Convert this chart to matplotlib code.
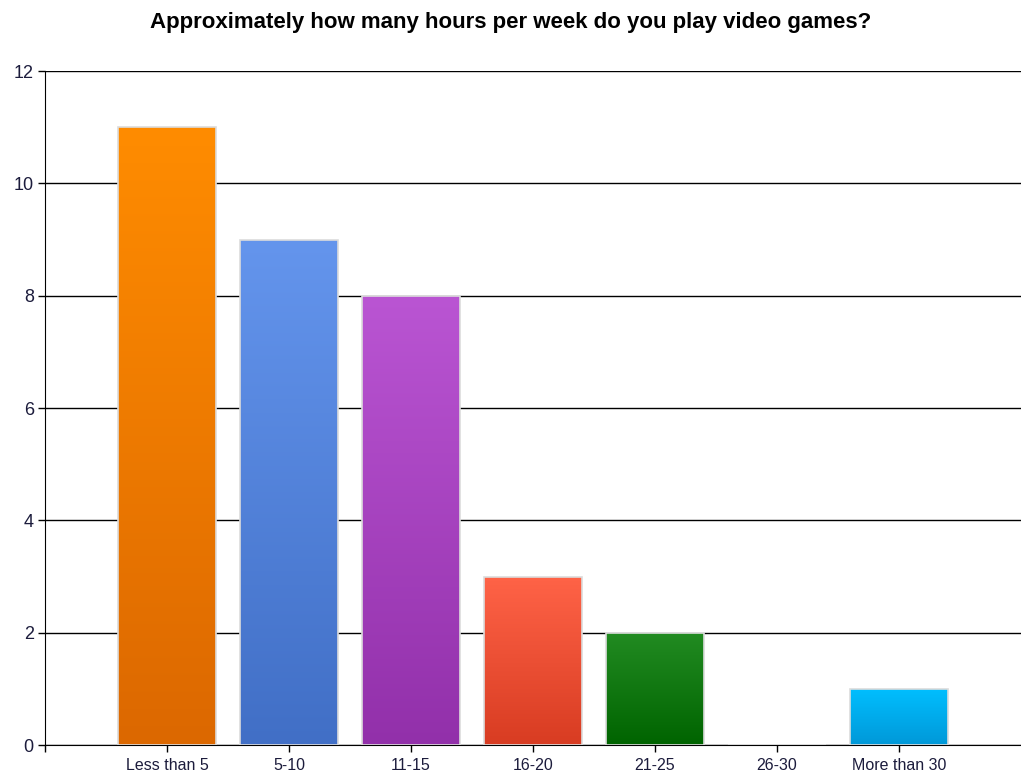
import matplotlib.pyplot as plt
import matplotlib.colors as mcolors
import numpy as np

plt.rcParams['font.family'] = ['Liberation Sans', 'DejaVu Sans']

# survey data
categories = ['Less than 5', '5-10', '11-15', '16-20', '21-25', '26-30', 'More than 30']
counts = [11, 9, 8, 3, 2, 0, 1]
top_colors = ['#ff8c00', '#6495ed', '#ba55d3', '#ff6347', '#228b22', '#00bfff', '#00bfff']
bottom_colors = ['#dc6800', '#416fc6', '#9230aa', '#d83c22', '#006400', '#0098d8', '#0098d8']

fig = plt.figure(figsize=(10.21, 7.78), dpi=100)
ax = fig.add_axes([0.044, 0.0424, 0.956, 0.8663])

x = np.arange(len(categories))
bars = ax.bar(x, counts, width=0.8, color='none', edgecolor='#dcdcdc', linewidth=1.2, zorder=3)

# vertical gradient fill for each bar
for b, c0, c1 in zip(bars, top_colors, bottom_colors):
    h = b.get_height()
    if h <= 0:
        continue
    cmap = mcolors.LinearSegmentedColormap.from_list('g', [c1, c0])
    grad = np.linspace(0, 1, 256).reshape(-1, 1)
    x0 = b.get_x()
    im = ax.imshow(grad, cmap=cmap, origin='lower', aspect='auto',
                   extent=[x0, x0 + b.get_width(), 0, h], zorder=2)
    im.set_clip_path(b)

ax.set_xlim(-1, 7)
ax.set_ylim(0, 12)
ax.set_yticks(range(0, 13, 2))
ax.set_xticks(x)
ax.set_xticks([-1], minor=True)
ax.set_xticklabels(categories)
ax.yaxis.grid(True, color='black', linewidth=1.0, zorder=1)
ax.set_axisbelow(True)

for s in ['top', 'right']:
    ax.spines[s].set_visible(False)
ax.spines['left'].set_color('black')
ax.spines['bottom'].set_color('black')
ax.tick_params(axis='both', which='both', colors='black', labelcolor='#1c1c3c',
               length=5, width=1, direction='out')
ax.tick_params(axis='x', labelsize=11.5, pad=4)
ax.tick_params(axis='y', labelsize=13, pad=3)

fig.suptitle('Approximately how many hours per week do you play video games?',
             x=0.5, y=0.985, fontsize=16, fontweight='bold', va='top')

fig.savefig('out.png', dpi=100)
